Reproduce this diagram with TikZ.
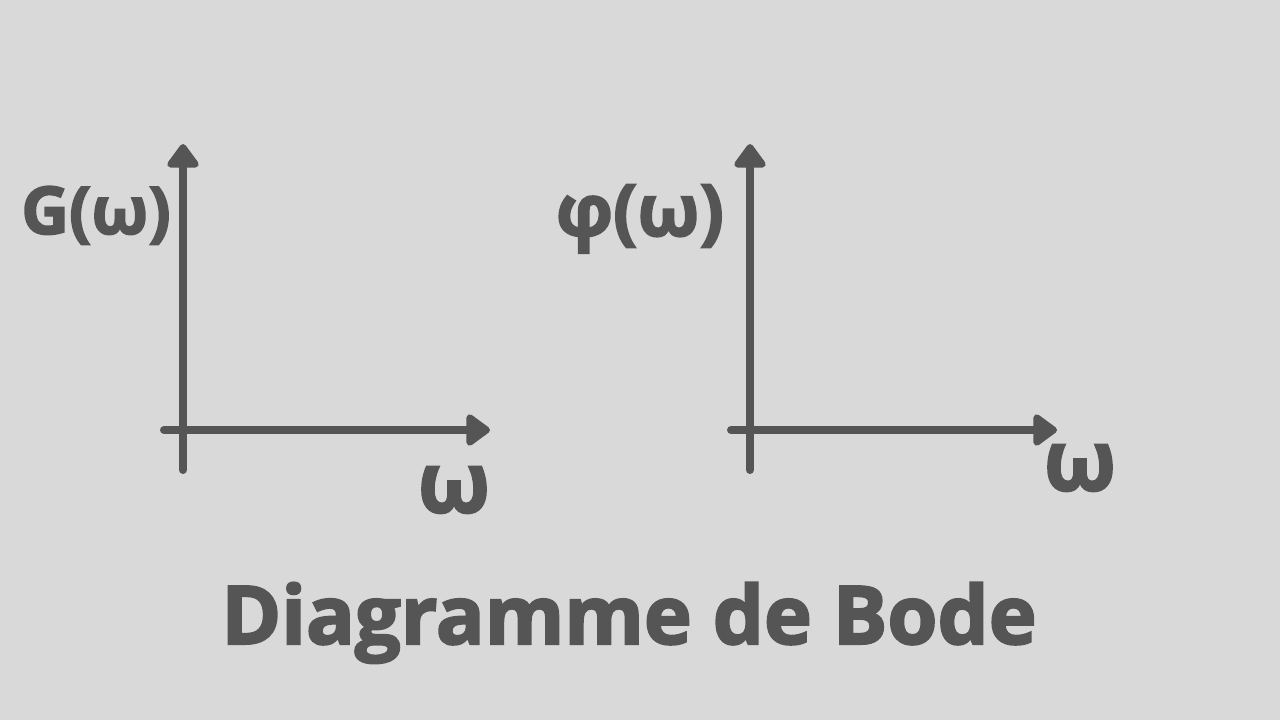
\documentclass[tikz,border=0pt]{standalone}
\usepackage{fontspec}
\setmainfont{Open Sans}[BoldFeatures={FakeBold=2.5}]
\usetikzlibrary{arrows.meta}
\definecolor{axisgray}{HTML}{555555}
\definecolor{backgray}{HTML}{D9D9D9}
\tikzset{
	axis/.style={draw=axisgray, line width=8pt, line cap=round,
		-{Triangle[length=26pt, width=36pt, round]}},
	label/.style={text=axisgray, font=\bfseries\fontsize{66}{70}\selectfont, inner sep=0pt},
	freq/.style={text=axisgray, font=\bfseries\fontsize{84}{88}\selectfont, inner sep=0pt},
	title/.style={text=axisgray, font=\bfseries\fontsize{81}{86}\selectfont, inner sep=0pt}
}
\begin{document}
\begin{tikzpicture}[x=1pt, y=-1pt]
		\fill[backgray] (0,0) rectangle (1280,720);
		\useasboundingbox (0,0) rectangle (1280,720);
		% gain
		\coordinate (GB) at (183,470);
		\coordinate (GT) at (183,144);
		\coordinate (GL) at (164,430);
		\coordinate (GR) at (490,430);
		\draw[axis] (GB) to (GT);
		\draw[axis] (GL) to (GR);
		\node[label, anchor=base] (G) at (96,234) {G(ω)};
		\node[freq] (W1) at (454,490) {ω};
		% phase
		\coordinate (PB) at (750,470);
		\coordinate (PT) at (750,144);
		\coordinate (PL) at (731,430);
		\coordinate (PR) at (1057,430);
		\draw[axis] (PB) to (PT);
		\draw[axis] (PL) to (PR);
		\node[label, font=\bfseries\fontsize{72}{76}\selectfont, anchor=base] (P) at (640,236) {φ(ω)};
		\node[freq] (W2) at (1080,468) {ω};
		\node[title, anchor=base] (T) at (629,644) {Diagramme de Bode};
\end{tikzpicture}
\end{document}
